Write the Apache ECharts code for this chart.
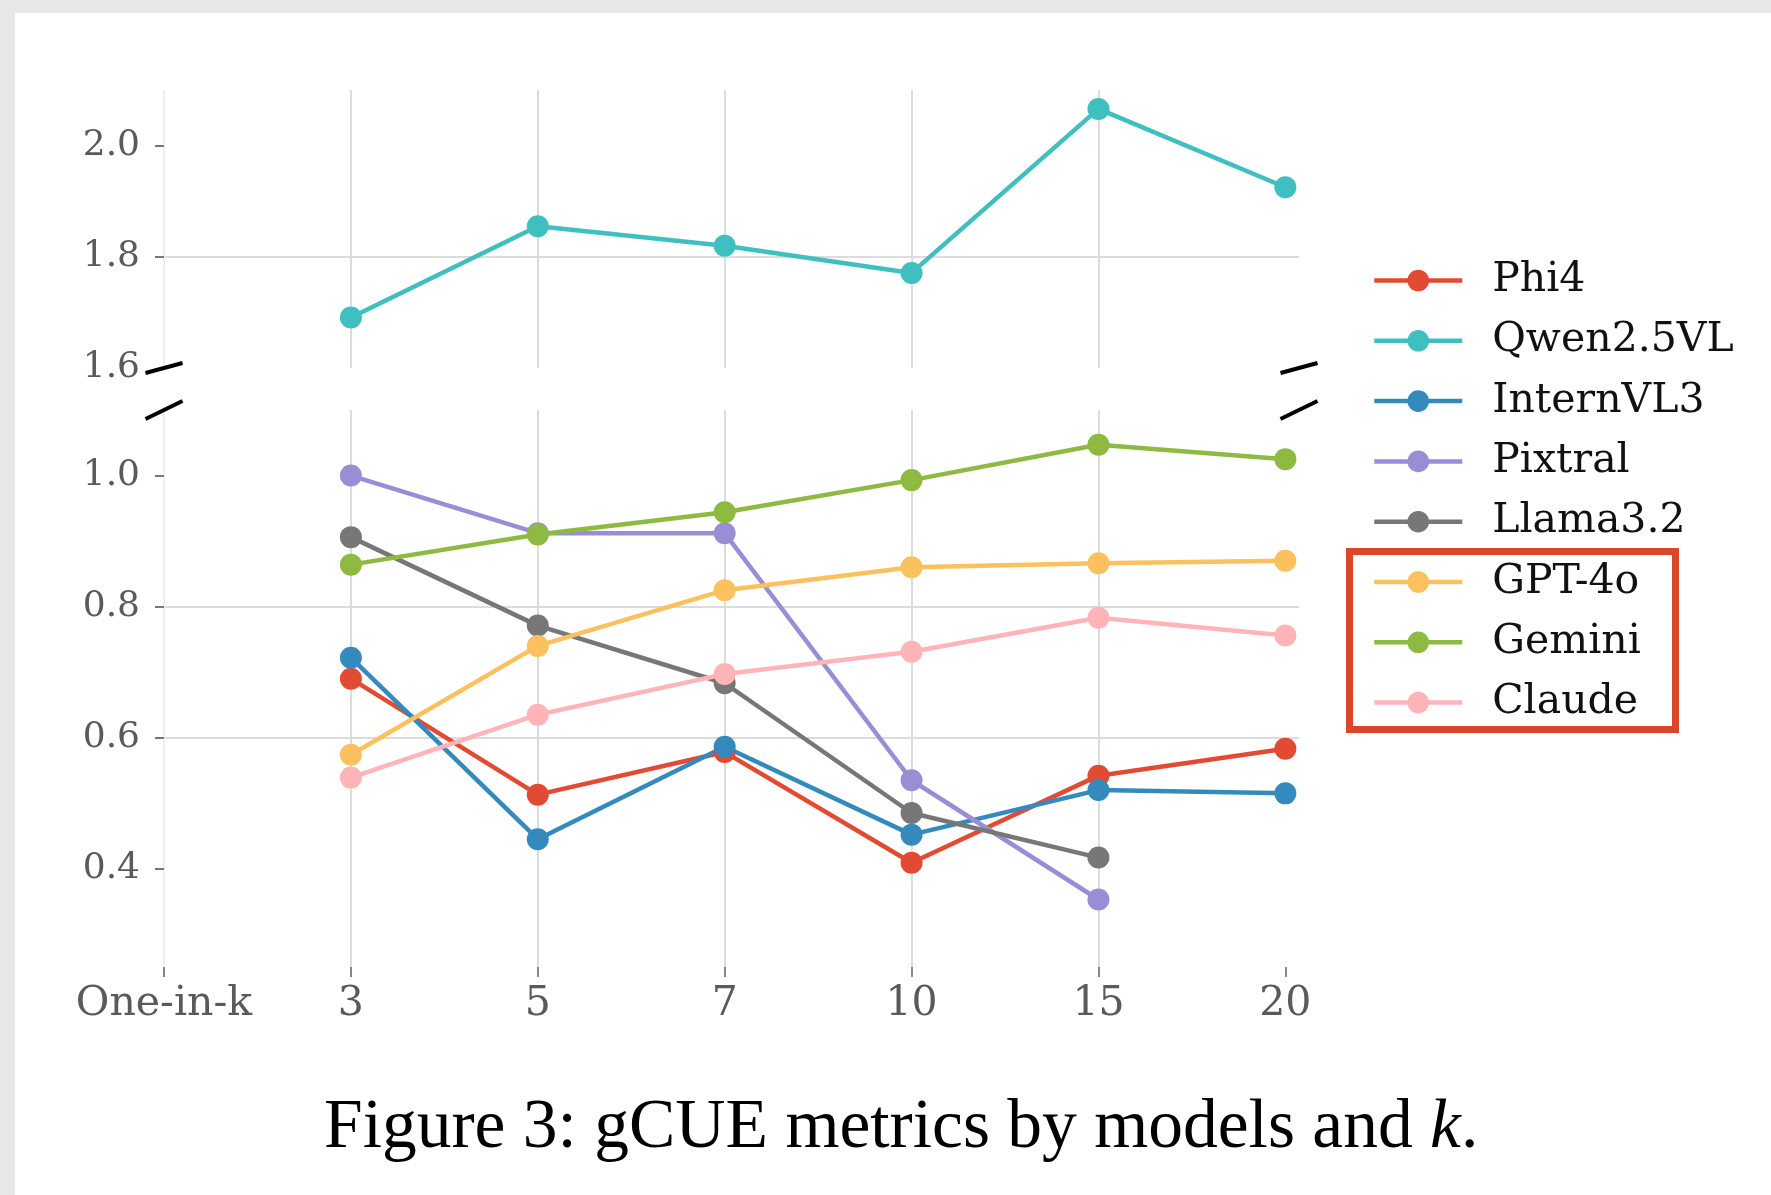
<!DOCTYPE html>
<html>
<head>
<meta charset="utf-8">
<script src="https://cdn.jsdelivr.net/npm/echarts@6/dist/echarts.min.js"></script>
<style>
html, body { margin: 0; padding: 0; background: #e8e8e8; }
#chart { width: 1771px; height: 1195px; }
</style>
</head>
<body>
<div id="chart"></div>
<script>
// x categories (k), first one is only a label
var kLabels = ['One-in-k', '3', '5', '7', '10', '15', '20'];
var models = ['Phi4', 'Qwen2.5VL', 'InternVL3', 'Pixtral', 'Llama3.2', 'GPT-4o', 'Gemini', 'Claude'];
var colors = ['#E24A33', '#3fbfc0', '#348ABD', '#988ED5', '#777777', '#FBC15E', '#8EBA42', '#FFB5B8'];

// gCUE values for k = 3, 5, 7, 10, 15, 20
var phi4    = [0.690, 0.513, 0.578, 0.409, 0.542, 0.583];
var qwen    = [1.691, 1.855, 1.820, 1.771, 2.066, 1.925];
var intern  = [0.722, 0.445, 0.586, 0.452, 0.520, 0.515];
var pixtral = [1.000, 0.912, 0.912, 0.535, 0.353, null];
var llama   = [0.906, 0.771, 0.683, 0.485, 0.417, null];
var gpt4o   = [0.574, 0.740, 0.825, 0.860, 0.866, 0.870];
var gemini  = [0.864, 0.910, 0.944, 0.993, 1.047, 1.025];
var claude  = [0.539, 0.635, 0.697, 0.731, 0.783, 0.756];

var topTicks = [1.6, 1.8, 2.0];
var bottomTicks = [0.4, 0.6, 0.8, 1.0];

var xMax = 6.073;
var tickFont = 'DejaVu Serif';

function pts(vals) {
    return vals.map(function (v, i) { return [i + 1, v]; })
               .filter(function (p) { return p[1] !== null; });
}

var seriesVals = [phi4, qwen, intern, pixtral, llama, gpt4o, gemini, claude];

var chart = echarts.init(document.getElementById('chart'));

function xAxisFor(gridIndex, withLabels) {
    return {
        type: 'value',
        gridIndex: gridIndex,
        min: 0,
        max: xMax,
        interval: 1,
        axisLine: { show: false },
        axisTick: {
            show: withLabels,
            length: 10,
            customValues: [0, 1, 2, 3, 4, 5, 6],
            lineStyle: { color: '#888', width: 2 }
        },
        axisLabel: {
            show: withLabels,
            customValues: [0, 1, 2, 3, 4, 5, 6],
            margin: 17,
            fontFamily: tickFont,
            fontSize: 41,
            color: '#5a5a5a',
            formatter: function (v) { return kLabels[Math.round(v)]; }
        },
        splitLine: {
            show: true,
            showMaxLine: false,
            lineStyle: { color: ['#efefef', '#dcdcdc', '#dcdcdc', '#dcdcdc', '#dcdcdc', '#dcdcdc', '#dcdcdc', '#dcdcdc'], width: 2 }
        }
    };
}

function yAxisFor(gridIndex, min, max, ticks, tickVals) {
    var ax = {
        type: 'value',
        gridIndex: gridIndex,
        min: min,
        max: max,
        axisLine: { show: false },
        axisTick: {
            show: true,
            length: 9,
            customValues: tickVals,
            lineStyle: { color: '#777', width: 2 }
        },
        axisLabel: {
            customValues: ticks,
            margin: 24,
            fontFamily: tickFont,
            fontSize: 36,
            color: '#5a5a5a',
            formatter: function (v) { return v.toFixed(1); }
        },
        splitLine: {
            show: true,
            showMinLine: gridIndex === 0,
            showMaxLine: false,
            lineStyle: { color: '#dcdcdc', width: 2 }
        }
    };
    if (gridIndex === 0) ax.interval = 0.2;
    return ax;
}

var series = models.map(function (name, i) {
    var onTop = name === 'Qwen2.5VL';
    return {
        name: name,
        type: 'line',
        xAxisIndex: onTop ? 0 : 1,
        yAxisIndex: onTop ? 0 : 1,
        data: pts(seriesVals[i]),
        symbol: 'circle',
        symbolSize: 22,
        clip: false,
        lineStyle: { width: 4.5, color: colors[i] },
        itemStyle: { color: colors[i] }
    };
});

chart.setOption({
    animation: false,
    backgroundColor: '#e8e8e8',
    color: colors,
    title: {
        left: 319,
        top: 1089,
        text: '{n|Figure 3: gCUE metrics by models and }{i|k}{n|.}',
        textStyle: {
            fontWeight: 'normal',
            rich: {
                n: { fontFamily: 'Liberation Serif', fontSize: 69.5, fontWeight: 'normal', color: '#000' },
                i: { fontFamily: 'Liberation Serif', fontStyle: 'italic', fontWeight: 'normal', fontSize: 69.5, color: '#000' }
            }
        }
    },
    legend: {
        orient: 'vertical',
        left: 1367,
        top: 255,
        padding: 5,
        itemWidth: 88,
        itemHeight: 27,
        itemGap: 19.3,
        data: models,
        lineStyle: { width: 4.5 },
        textStyle: {
            fontFamily: tickFont,
            fontSize: 41,
            lineHeight: 41,
            color: '#111',
            padding: [0, 0, 0, 25]
        }
    },
    grid: [
        { left: 164, top: 90, width: 1135, height: 278 },
        { left: 164, top: 410, width: 1135, height: 557 }
    ],
    xAxis: [xAxisFor(0, false), xAxisFor(1, true)],
    yAxis: [
        yAxisFor(0, 1.6, 2.1, topTicks, [1.8, 2.0]),
        yAxisFor(1, 0.25, 1.1, bottomTicks, bottomTicks)
    ],
    series: series
});

// broken-axis markers and frame decorations
var tl = chart.convertToPixel({ xAxisIndex: 0, yAxisIndex: 0 }, [0, 1.6]);
var tr = chart.convertToPixel({ xAxisIndex: 0, yAxisIndex: 0 }, [xMax, 1.6]);
var bl = chart.convertToPixel({ xAxisIndex: 1, yAxisIndex: 1 }, [0, 1.1]);
var br = chart.convertToPixel({ xAxisIndex: 1, yAxisIndex: 1 }, [xMax, 1.1]);

function slash(p, dx, dy) {
    return {
        type: 'line',
        z: 100,
        shape: { x1: p[0] - dx, y1: p[1] + dy, x2: p[0] + dx, y2: p[1] - dy },
        style: { stroke: '#000', lineWidth: 4 }
    };
}

chart.setOption({
    graphic: [
        { type: 'rect', z: -100, shape: { x: 15, y: 13, width: 1756, height: 1182 }, style: { fill: '#fff' } },
        slash(tl, 18.5, 5),
        slash(tr, 18.5, 5),
        slash(bl, 18.5, 9),
        slash(br, 18.5, 9),
        { type: 'rect', z: 100, shape: { x: 1349.5, y: 551.5, width: 326, height: 178 },
          style: { fill: 'none', stroke: '#d9472b', lineWidth: 7 } }
    ]
});

window.addEventListener('resize', chart.resize);
</script>
</body>
</html>
